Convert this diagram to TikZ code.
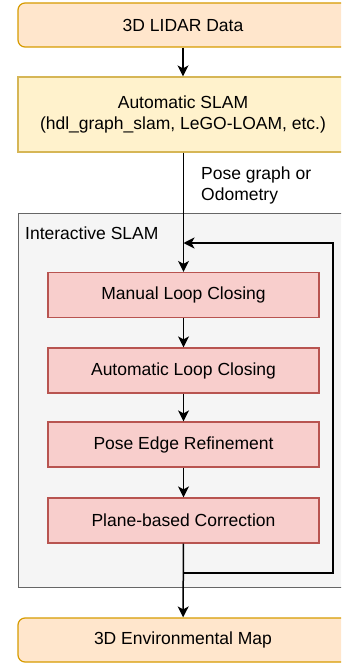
\documentclass[tikz,border=0pt]{standalone}
\usepackage{fontspec}
\setmainfont{Liberation Sans}
\usetikzlibrary{arrows.meta}
\definecolor{datafill}{HTML}{FFE6CC}
\definecolor{datadraw}{HTML}{D79B00}
\definecolor{slamfill}{HTML}{FFF2CC}
\definecolor{slamdraw}{HTML}{D6B656}
\definecolor{stepfill}{HTML}{F8CECC}
\definecolor{stepdraw}{HTML}{B85450}
\definecolor{groupfill}{HTML}{F5F5F5}
\definecolor{groupdraw}{HTML}{666666}

\begin{document}
\begin{tikzpicture}[x=1pt,y=-1pt,
    every node/.style={font=\fontsize{17.5}{21}\selectfont},
    databox/.style={draw=datadraw, fill=datafill, line width=1.2pt, rounded corners=7pt,
      minimum width=330pt, minimum height=44pt},
    slambox/.style={draw=slamdraw, fill=slamfill, line width=1.2pt, align=center,
      minimum width=330pt, minimum height=75pt},
    stepbox/.style={draw=stepdraw, fill=stepfill, line width=1.2pt,
      minimum width=271pt, minimum height=45pt},
    groupbox/.style={draw=groupdraw, fill=groupfill, line width=1.2pt, anchor=north west,
      minimum width=362pt, minimum height=374pt},
    flow/.style={line width=1.5pt, -{Stealth[length=11pt, width=11pt, inset=3pt]}}]
    \useasboundingbox (0,0) rectangle (341,666);
    \clip (0,0) rectangle (341,666);

    % outer blocks
    \node [databox] (lidar) at (183,25) {3D LIDAR Data};
    \node [slambox] (autoslam) at (183,114.5) {Automatic SLAM\\(hdl\_graph\_slam, LeGO-LOAM, etc.)};

    % interactive part
    \node [groupbox] (islam) at (18,213) {};
    \node [anchor=base west, inner sep=0pt] (islamlabel) at (25,239) {Interactive SLAM};

    \node [stepbox] (manual) at (183.5,295) {Manual Loop Closing};
    \node [stepbox] (autoloop) at (183.5,370.5) {Automatic Loop Closing};
    \node [stepbox] (refine) at (183.5,444.5) {Pose Edge Refinement};
    \node [stepbox] (plane) at (183.5,520.5) {Plane-based Correction};

    \node [databox] (envmap) at (183,640) {3D Environmental Map};

    % connectors
    \draw [flow] (lidar) -- (autoslam);
    \draw [flow] (autoslam.south -| manual.north) -- (manual.north);
    \node [anchor=north west, align=left, inner sep=0pt] (poselabel) at (201,167) {Pose graph or\\Odometry};
    \draw [flow] (manual) -- (autoloop);
    \draw [flow] (autoloop) -- (refine);
    \draw [flow] (refine) -- (plane);
    \draw [flow] (plane) -- (envmap);

    % loop back
    \coordinate (fbstart) at (183.5,573);
    \coordinate (fbright) at (333,573);
    \coordinate (fbtop) at (333,243);
    \coordinate (fbend) at (183.5,243);
    \draw [flow] (fbstart) -- (fbright) -- (fbtop) -- (fbend);
  \end{tikzpicture}
\end{document}
